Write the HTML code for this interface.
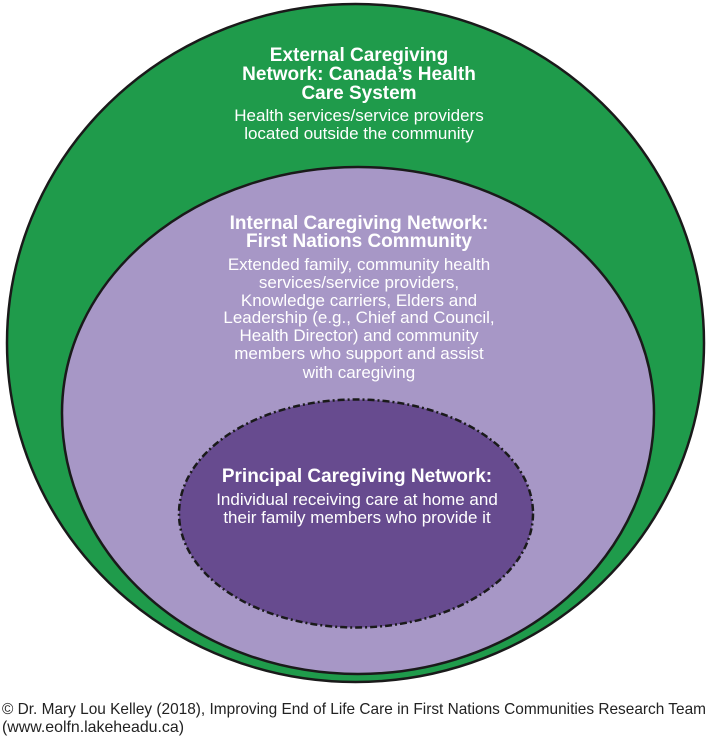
<!DOCTYPE html>
<html><head><meta charset="utf-8"><style>
html,body{margin:0;padding:0;background:#fff;}
svg{display:block;}
text{font-family:"Liberation Sans",Arial,sans-serif;fill:#fff;text-anchor:middle;}
.b{font-weight:bold;font-size:19px;}
.r{font-size:17px;}
.f{fill:#222;text-anchor:start;font-size:16px;}
</style></head><body>
<svg width="709" height="739" viewBox="0 0 709 739" xmlns="http://www.w3.org/2000/svg">
<ellipse cx="355.5" cy="343" rx="348.5" ry="339" fill="#1f9b4b" stroke="#1a1a1a" stroke-width="2.5"/>
<path d="M62,413 A296,246 0 0 1 654,413 A296,261 0 0 1 62,413 Z" fill="#a797c6" stroke="#1a1a1a" stroke-width="2.5"/>
<ellipse cx="356" cy="513.5" rx="177" ry="114" fill="#674b8f" stroke="#1a1a1a" stroke-width="2.5" stroke-dasharray="7,3,2,3"/>
<text class="b" x="359" y="61">External Caregiving</text>
<text class="b" x="359" y="80">Network: Canada’s Health</text>
<text class="b" x="359" y="99">Care System</text>
<text class="r" x="359" y="121">Health services/service providers</text>
<text class="r" x="359" y="139">located outside the community</text>
<text class="b" x="359" y="229">Internal Caregiving Network:</text>
<text class="b" x="359" y="247">First Nations Community</text>
<text class="r" x="359" y="270">Extended family, community health</text>
<text class="r" x="359" y="288">services/service providers,</text>
<text class="r" x="359" y="306">Knowledge carriers, Elders and</text>
<text class="r" x="359" y="323">Leadership (e.g., Chief and Council,</text>
<text class="r" x="359" y="341">Health Director) and community</text>
<text class="r" x="359" y="359">members who support and assist</text>
<text class="r" x="359" y="378">with caregiving</text>
<text class="b" x="357" y="482">Principal Caregiving Network:</text>
<text class="r" x="357" y="505">Individual receiving care at home and</text>
<text class="r" x="357" y="523">their family members who provide it</text>
<text class="f" x="2" y="714" textLength="704" lengthAdjust="spacingAndGlyphs">© Dr. Mary Lou Kelley (2018), Improving End of Life Care in First Nations Communities Research Team</text>
<text class="f" x="2" y="732" textLength="182" lengthAdjust="spacingAndGlyphs">(www.eolfn.lakeheadu.ca)</text>
</svg>
</body></html>
